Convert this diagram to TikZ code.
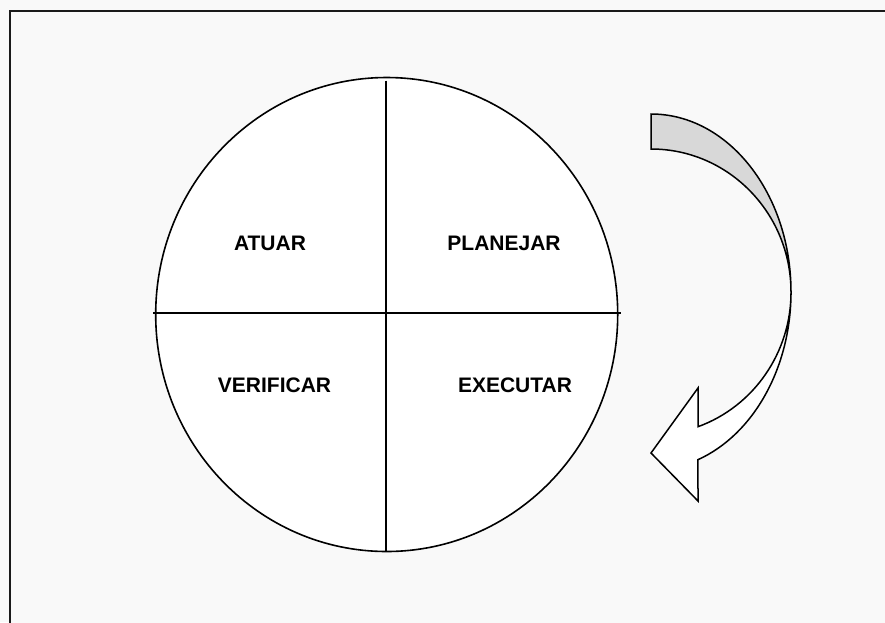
\documentclass[tikz,border=0pt]{standalone}
\usepackage{fontspec}
\setmainfont{Liberation Sans}
\usetikzlibrary{shapes.geometric}
\definecolor{bgcol}{HTML}{F9F9F9}
\definecolor{framecol}{HTML}{1A1A1A}
\definecolor{backband}{HTML}{D8D8D8}
\begin{document}
\begin{tikzpicture}[x=1pt,y=-1pt,
  label/.style={font=\bfseries\fontsize{21}{25}\selectfont, anchor=base, inner sep=0pt},
  divider/.style={draw=black, line width=1.7pt},
  arrowpart/.style={draw=black, line width=1.5pt, line join=miter}]
\useasboundingbox (0,0) rectangle (885,622);
\fill[bgcol] (0,0) rectangle (885,622);
\begin{scope}
\clip (0,0) rectangle (885,622);
\draw[framecol, line width=1.8pt, fill=bgcol] (10,11) rectangle (895,640);
\end{scope}
% circle
\node[draw=black, line width=1.6pt, fill=white, ellipse, minimum width=462pt, minimum height=474pt, inner sep=0pt] (circ) at (386.7,314.5) {};
\coordinate (hl) at (153,312.7);
\coordinate (hr) at (620.7,312.7);
\coordinate (vt) at (386,80.7);
\coordinate (vb) at (386,551.5);
\draw[divider] (hl) -- (hr);
\draw[divider] (vt) -- (vb);
% labels
\node[label] (atuar) at (270,250) {ATUAR};
\node[label] (planejar) at (504,250) {PLANEJAR};
\node[label] (verificar) at (274.5,392) {VERIFICAR};
\node[label] (executar) at (515,392) {EXECUTAR};
% curved arrow: back band
\coordinate (bandtop) at (651,114);
\coordinate (tip) at (651,453);
\coordinate (barbU) at (698,388);
\coordinate (barbL) at (698,501);
\coordinate (neckU) at (698,426.7);
\coordinate (neckL) at (698,459.7);
\coordinate (rightpt) at (791,292);
\draw[arrowpart, fill=backband] (bandtop)
   arc[start angle=-90, end angle=0, x radius=140, y radius=178]
   arc[start angle=0, end angle=-90, x radius=140, y radius=143] -- cycle;
% curved arrow: front part with head
\draw[arrowpart, fill=white] (rightpt)
   arc[start angle=0, end angle=70.4, x radius=140, y radius=178]
   -- (barbL) -- (tip) -- (barbU) -- (neckU)
   arc[start angle=70.4, end angle=0, x radius=140, y radius=143] -- cycle;
\end{tikzpicture}
\end{document}
